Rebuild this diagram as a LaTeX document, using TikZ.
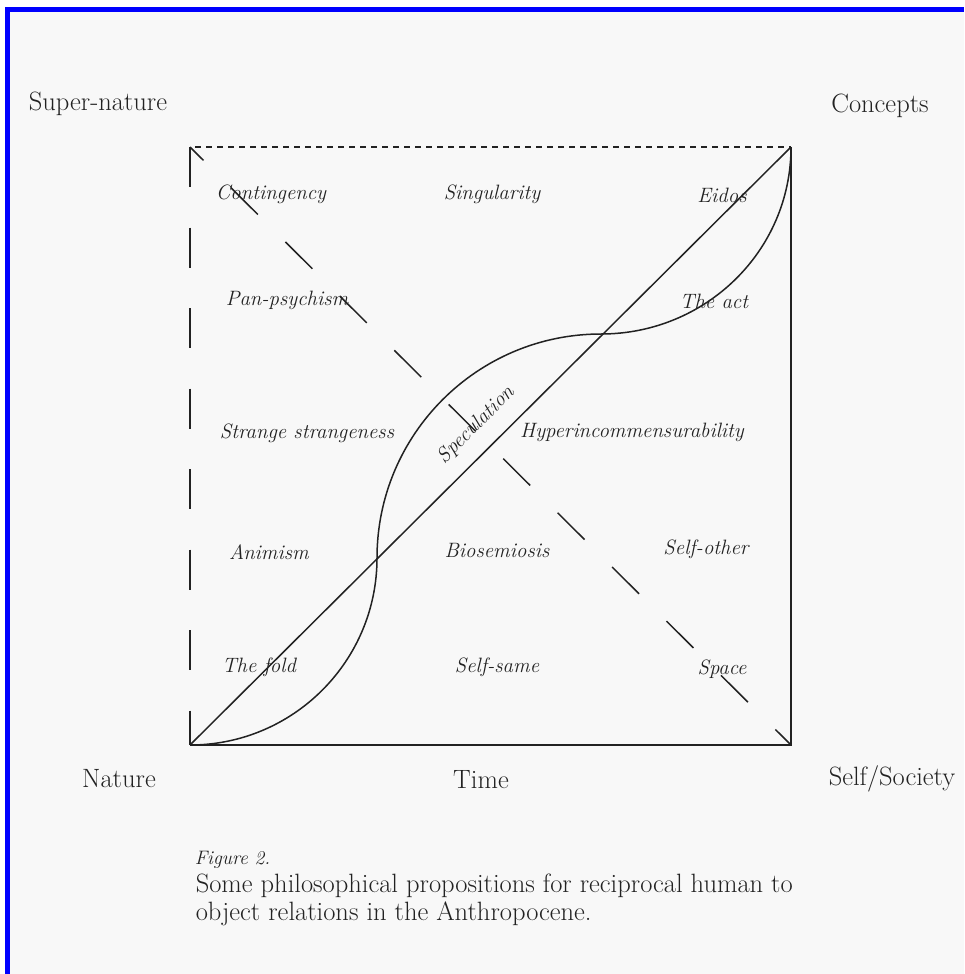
\documentclass[tikz,border=0pt]{standalone}
\usepackage{fontspec}
\usepackage{xcolor}
\definecolor{ink}{HTML}{222222}
\definecolor{paper}{HTML}{F8F8F8}
\begin{document}
\begin{tikzpicture}[x=1pt,y=-1pt,line width=1.5pt,draw=ink,text=ink]
  \tikzstyle{prop}=[font=\fontsize{20.8}{24}\selectfont\itshape,inner sep=0pt]
  \tikzstyle{pole}=[font=\fontsize{26.5}{30}\selectfont,inner sep=0pt]
  \def\rb{187}	% radius of lower bend
  \def\rm{224}	% radius of middle bend
  \def\rt{189}	% radius of upper bend
  \useasboundingbox (0,0) rectangle (964,974);
  \fill[white] (0,0) rectangle (964,974);
  \fill[blue] (5,7) rectangle (964,974);
  \fill[paper] (10,12) rectangle (964,974);

  \coordinate (sw) at (190,745);
  \coordinate (nw) at (190,147);
  \coordinate (ne) at (791,147);
  \coordinate (se) at (791,745);
  \coordinate (p1) at (377,558);
  \coordinate (p2) at (601,334);

  \draw[line width=1.3pt,dash pattern=on 6pt off 5pt,dash phase=-5pt] (nw) -- (ne);
  \draw[dash pattern=on 40pt off 40.5pt] (nw) -- (sw);
  \draw[dash pattern=on 38pt off 38.8pt,dash phase=19pt] (nw) -- (se);
  \draw (sw) -- (se) -- (ne);
  \draw (sw) -- (ne);
  \draw (sw) .. controls +(0.552*\rb,0) and +(0,0.552*\rb) .. (p1)
             .. controls +(0,-0.552*\rm) and +(-0.552*\rm,0) .. (p2)
             .. controls +(0.552*\rt,0) and +(0,0.552*\rt) .. (ne);

  \node[pole] (supernature) at (98,104) {Super-nature};
  \node[pole] (concepts) at (880,106) {Concepts};
  \node[pole] (nature) at (119,779) {Nature};
  \node[pole] (time) at (481,780) {Time};
  \node[pole] (society) at (892,779) {Self/Society};

  \node[prop] (contingency) at (271,194) {Contingency};
  \node[prop] (singularity) at (492,194) {Singularity};
  \node[prop] (eidos) at (722,195) {Eidos};
  \node[prop] (panpsychism) at (287,300) {Pan-psychism};
  \node[prop] (act) at (714,301) {The act};
  \node[prop] (strange) at (307,433) {Strange strangeness};
  \node[prop] (hyper) at (632,432) {Hyperincommensurability};
  \node[prop,rotate=45] (speculation) at (476,425) {Speculation};
  \node[prop] (animism) at (269,552) {Animism};
  \node[prop] (biosemiosis) at (497,550) {Biosemiosis};
  \node[prop] (selfother) at (706,549) {Self-other};
  \node[prop] (fold) at (259,667) {The fold};
  \node[prop] (selfsame) at (497,667) {Self-same};
  \node[prop] (space) at (722,669) {Space};

  \node[font=\fontsize{19.5}{22}\selectfont\itshape,inner sep=0pt,anchor=base west] (figure) at (194,864) {Figure 2.};
  \node[font=\fontsize{26.5}{28.5}\selectfont,inner sep=0pt,anchor=north west,align=left] (caption) at (195,873)
    {Some philosophical propositions for reciprocal human to\\object relations in the Anthropocene.};
\end{tikzpicture}
\end{document}
